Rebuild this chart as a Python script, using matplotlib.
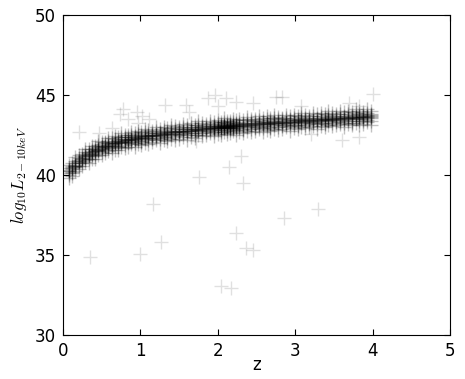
import numpy as np
import matplotlib
matplotlib.use("Agg")
import matplotlib.pyplot as plt

plt.rcParams['mathtext.fontset'] = 'cm'

# band of sources: one column per redshift slice, log L values
band_z = [0.08, 0.12, 0.16, 0.21, 0.25, 0.29, 0.33, 0.37, 0.41, 0.45,
          0.50, 0.54, 0.58, 0.63, 0.67, 0.71, 0.75, 0.80, 0.84, 0.88,
          0.93, 0.97, 1.01, 1.06, 1.10, 1.15, 1.20, 1.25, 1.30, 1.35,
          1.40, 1.45, 1.50, 1.55, 1.60, 1.65, 1.70, 1.75, 1.80, 1.85,
          1.90, 1.95, 2.00, 2.04, 2.08, 2.12, 2.16, 2.20, 2.24, 2.28,
          2.33, 2.38, 2.43, 2.48, 2.53, 2.58, 2.63, 2.68, 2.73, 2.78,
          2.83, 2.88, 2.93, 2.98, 3.03, 3.08, 3.13, 3.18, 3.23, 3.28,
          3.33, 3.38, 3.43, 3.48, 3.53, 3.58, 3.63, 3.68, 3.73, 3.78,
          3.83, 3.88, 3.93, 3.98]
band_L = [
    [39.80, 40.02, 40.13, 40.22, 40.31, 40.44, 40.64, 40.26],
    [40.10, 40.19, 40.37, 40.47, 40.57, 40.73, 39.92, 40.43],
    [40.24, 40.49, 40.56, 40.65, 40.74, 40.88, 41.12, 40.58],
    [40.39, 40.59, 40.76, 40.85, 40.94, 41.06, 41.22, 40.81],
    [40.77, 40.86, 40.98, 41.06, 41.19, 41.30, 40.58, 41.03],
    [40.82, 40.96, 41.08, 41.18, 41.27, 41.41, 41.62, 41.13],
    [41.01, 41.16, 41.29, 41.37, 41.44, 41.64, 40.73, 41.24],
    [41.00, 41.22, 41.33, 41.42, 41.51, 41.64, 41.84, 41.37],
    [41.20, 41.29, 41.47, 41.57, 41.67, 41.83, 41.02, 41.53],
    [41.24, 41.49, 41.56, 41.65, 41.74, 41.88, 42.12, 41.58],
    [41.24, 41.44, 41.61, 41.70, 41.79, 41.91, 42.07, 41.73],
    [41.55, 41.64, 41.76, 41.84, 41.97, 42.08, 41.36, 41.80],
    [41.52, 41.66, 41.78, 41.88, 41.97, 42.11, 42.32, 41.83],
    [41.66, 41.81, 41.94, 42.02, 42.09, 42.29, 41.38, 41.90],
    [41.59, 41.81, 41.92, 42.01, 42.10, 42.23, 42.43, 41.97],
    [41.74, 41.83, 42.01, 42.11, 42.21, 42.37, 41.56, 42.06],
    [41.73, 41.98, 42.05, 42.14, 42.23, 42.37, 42.61, 42.08],
    [41.69, 41.89, 42.06, 42.15, 42.24, 42.36, 42.52, 42.18],
    [41.97, 42.06, 42.18, 42.26, 42.39, 42.50, 41.78, 42.21],
    [41.91, 42.05, 42.17, 42.27, 42.36, 42.50, 42.71, 42.22],
    [42.01, 42.16, 42.29, 42.37, 42.44, 42.64, 41.73, 42.25],
    [41.91, 42.13, 42.24, 42.33, 42.42, 42.55, 42.75, 42.29],
    [42.04, 42.13, 42.31, 42.41, 42.51, 42.67, 41.86, 42.37],
    [42.02, 42.27, 42.34, 42.43, 42.52, 42.66, 42.90, 42.36],
    [41.96, 42.16, 42.33, 42.42, 42.51, 42.63, 42.79, 42.45],
    [42.23, 42.32, 42.44, 42.52, 42.65, 42.76, 42.04, 42.48],
    [42.17, 42.31, 42.43, 42.53, 42.62, 42.76, 42.97, 42.49],
    [42.26, 42.41, 42.54, 42.62, 42.69, 42.89, 41.98, 42.50],
    [42.17, 42.39, 42.50, 42.59, 42.68, 42.81, 43.01, 42.55],
    [42.30, 42.39, 42.57, 42.67, 42.77, 42.93, 42.12, 42.63],
    [42.27, 42.52, 42.59, 42.68, 42.77, 42.91, 43.15, 42.61],
    [42.21, 42.41, 42.58, 42.67, 42.76, 42.88, 43.04, 42.70],
    [42.47, 42.56, 42.68, 42.76, 42.89, 43.00, 42.28, 42.72],
    [42.40, 42.54, 42.66, 42.76, 42.85, 42.99, 43.20, 42.71],
    [42.49, 42.64, 42.77, 42.85, 42.92, 43.12, 42.21, 42.73],
    [42.39, 42.61, 42.72, 42.81, 42.90, 43.03, 43.23, 42.77],
    [42.52, 42.61, 42.79, 42.89, 42.99, 43.15, 42.34, 42.85],
    [42.49, 42.74, 42.81, 42.90, 42.99, 43.13, 43.37, 42.83],
    [42.42, 42.62, 42.79, 42.88, 42.97, 43.09, 43.25, 42.91],
    [42.67, 42.76, 42.88, 42.96, 43.09, 43.20, 42.48, 42.92],
    [42.60, 42.74, 42.86, 42.96, 43.05, 43.19, 43.40, 42.91],
    [42.69, 42.84, 42.97, 43.05, 43.12, 43.32, 42.41, 42.93, 43.00, 42.88],
    [42.58, 42.80, 42.91, 43.00, 43.09, 43.22, 43.42, 42.96, 43.04, 42.94],
    [42.70, 42.79, 42.97, 43.07, 43.17, 43.33, 42.52, 43.03, 42.95, 43.10],
    [42.66, 42.91, 42.98, 43.07, 43.16, 43.30, 43.54, 43.00, 43.05, 42.93, 43.11],
    [42.57, 42.77, 42.94, 43.03, 43.12, 43.24, 43.40, 43.06, 42.99, 43.09, 42.91],
    [42.82, 42.91, 43.03, 43.11, 43.24, 43.35, 42.63, 43.07, 42.98, 43.14, 42.95],
    [42.73, 42.87, 42.99, 43.09, 43.18, 43.32, 43.53, 43.04, 43.12, 42.96],
    [42.81, 42.96, 43.09, 43.17, 43.24, 43.44, 42.53, 43.05, 43.13],
    [42.69, 42.91, 43.02, 43.11, 43.20, 43.33, 43.53, 43.07],
    [42.81, 42.90, 43.08, 43.18, 43.28, 43.44, 42.63, 43.14],
    [42.77, 43.02, 43.09, 43.18, 43.27, 43.41, 43.65, 43.11],
    [42.69, 42.89, 43.06, 43.15, 43.24, 43.36, 43.52, 43.18],
    [42.94, 43.03, 43.15, 43.23, 43.36, 43.47, 42.75, 43.19],
    [42.86, 43.00, 43.12, 43.22, 43.31, 43.45, 43.66, 43.17],
    [42.94, 43.09, 43.22, 43.30, 43.37, 43.57, 42.66, 43.18],
    [42.83, 43.05, 43.16, 43.25, 43.34, 43.47, 43.67, 43.21],
    [42.94, 43.03, 43.21, 43.31, 43.41, 43.57, 42.76, 43.27],
    [42.90, 43.15, 43.22, 43.31, 43.40, 43.54, 43.78, 43.24],
    [42.81, 43.01, 43.18, 43.27, 43.36, 43.48, 43.64, 43.30],
    [43.06, 43.15, 43.27, 43.35, 43.48, 43.59, 42.87, 43.31],
    [42.97, 43.11, 43.23, 43.33, 43.42, 43.56, 43.77, 43.28],
    [43.05, 43.20, 43.33, 43.41, 43.48, 43.68, 42.77, 43.29],
    [42.93, 43.15, 43.26, 43.35, 43.44, 43.57, 43.77, 43.31],
    [43.05, 43.14, 43.32, 43.42, 43.52, 43.68, 42.87, 43.38],
    [43.01, 43.26, 43.33, 43.42, 43.51, 43.65, 43.89, 43.35],
    [42.92, 43.12, 43.29, 43.38, 43.47, 43.59, 43.75, 43.41],
    [43.17, 43.26, 43.38, 43.46, 43.59, 43.70, 42.98, 43.42],
    [43.08, 43.22, 43.34, 43.44, 43.53, 43.67, 43.88, 43.39],
    [43.16, 43.31, 43.44, 43.52, 43.59, 43.79, 42.88, 43.40],
    [43.05, 43.27, 43.38, 43.47, 43.56, 43.69, 43.89, 43.43],
    [43.16, 43.25, 43.43, 43.53, 43.63, 43.79, 42.98, 43.49],
    [43.12, 43.37, 43.44, 43.53, 43.62, 43.76, 44.00, 43.46],
    [43.04, 43.24, 43.41, 43.50, 43.59, 43.71, 43.87, 43.53],
    [43.29, 43.38, 43.50, 43.58, 43.71, 43.82, 43.10, 43.54],
    [43.20, 43.34, 43.46, 43.56, 43.65, 43.79, 44.00, 43.51],
    [43.28, 43.43, 43.56, 43.64, 43.71, 43.91, 43.00, 43.52],
    [43.17, 43.39, 43.50, 43.59, 43.68, 43.81, 44.01, 43.55],
    [43.28, 43.37, 43.55, 43.65, 43.75, 43.91, 43.10, 43.61],
    [43.24, 43.49, 43.56, 43.65, 43.74, 43.88, 44.12, 43.58],
    [43.15, 43.35, 43.52, 43.61, 43.70, 43.82, 43.98, 43.64],
    [43.40, 43.49, 43.61, 43.69, 43.82, 43.93, 43.21, 43.65],
    [43.31, 43.45, 43.57, 43.67, 43.76, 43.90, 44.11, 43.62],
    [43.39, 43.54, 43.67, 43.75, 43.82, 44.02, 43.11, 43.63],
]

# scattered sources away from the main band
out_z = [0.35, 1.00, 1.16, 1.27, 1.76, 2.32, 2.23, 2.36, 2.46, 2.04, 2.17,
         2.86, 3.30, 0.21, 0.78, 0.74, 0.95, 0.84, 1.02, 0.97, 1.11, 0.63,
         0.47, 1.32, 1.59, 1.63, 1.87, 1.97, 2.00, 2.11, 2.24, 2.45, 1.72,
         2.30, 2.14, 2.75, 2.83, 3.08, 3.69, 3.82, 4.00, 3.61, 3.83, 3.21]
out_L = [34.85, 35.04, 38.17, 35.79, 39.90, 39.48, 36.36, 35.46, 35.31,
         33.06, 32.92, 37.29, 37.86, 42.71, 44.10, 43.80, 43.96, 43.48,
         43.69, 43.23, 43.48, 42.92, 42.60, 44.38, 44.38, 43.96, 44.80,
         45.00, 44.30, 44.80, 44.58, 44.52, 42.10, 41.19, 40.48, 44.85,
         44.90, 44.31, 44.48, 44.31, 45.06, 42.19, 42.35, 42.56]

zs = np.concatenate([[z] * len(Ls) for z, Ls in zip(band_z, band_L)])
Ls = np.concatenate(band_L)

fig = plt.figure(figsize=(4.65, 3.79), dpi=100)
ax = fig.add_axes([0.1355, 0.1161, 0.8322, 0.8443])

ax.plot(out_z, out_L, '+', color='k', ms=9.5, mew=1, alpha=0.12)
ax.plot(zs, Ls, '+', color='k', ms=9.5, mew=1, alpha=0.24)

ax.set_xlim(0, 5)
ax.set_ylim(30, 50)
ax.set_xticks([0, 1, 2, 3, 4, 5])
ax.set_yticks([30, 35, 40, 45, 50])
ax.tick_params(direction='in', top=True, right=True, labelsize=12, length=4, pad=5)
ax.set_xlabel('z', fontsize=12, labelpad=-3)
ax.set_ylabel(r'$log_{10}L_{2-10keV}$', fontsize=12, labelpad=4)

plt.savefig('out.png', dpi=100)
